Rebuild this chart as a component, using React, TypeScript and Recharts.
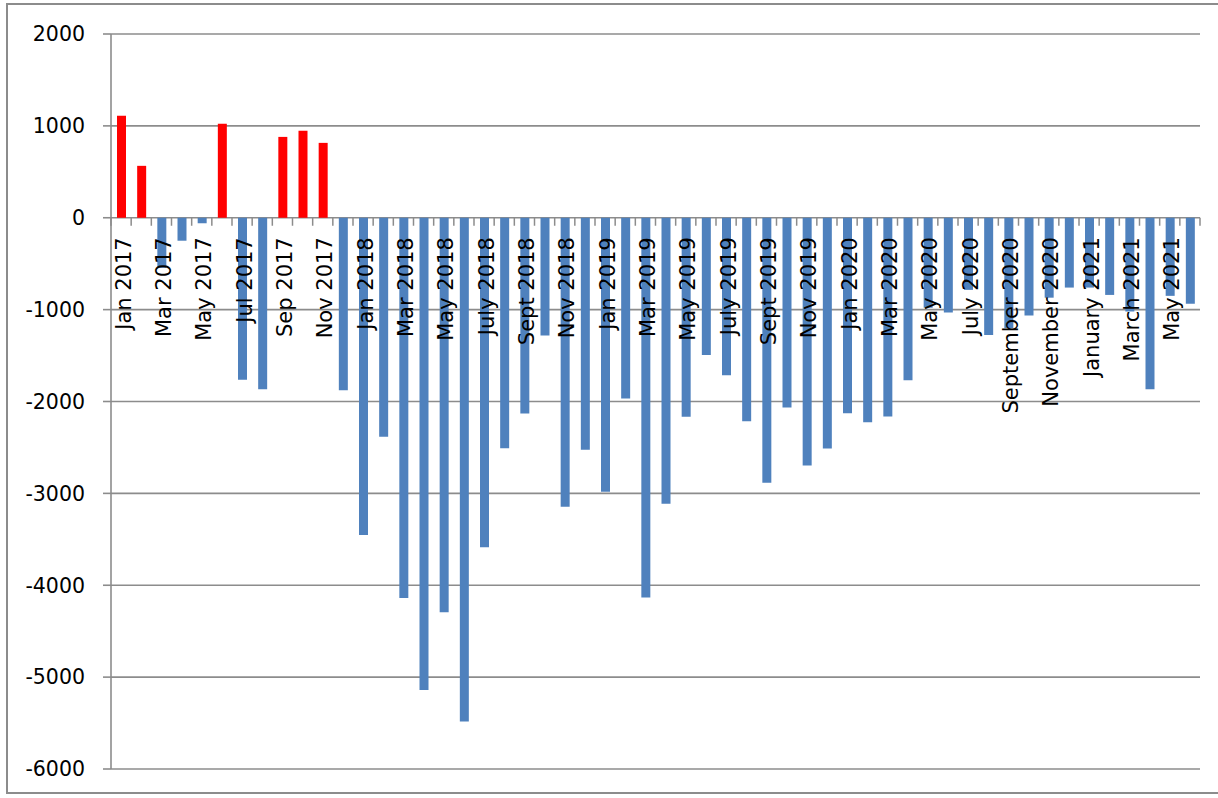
import React from "react";
import { BarChart, Bar, XAxis, YAxis, CartesianGrid, Cell } from "recharts";

// ---- data ----
const months: string[] = [
  "Jan 2017", "Feb 2017", "Mar 2017", "Apr 2017", "May 2017", "Jun 2017",
  "Jul 2017", "Aug 2017", "Sep 2017", "Oct 2017", "Nov 2017", "Dec 2017",
  "Jan 2018", "Feb 2018", "Mar 2018", "Apr 2018", "May 2018", "June 2018",
  "July 2018", "Aug 2018", "Sept 2018", "Oct 2018", "Nov 2018", "Dec 2018",
  "Jan 2019", "Feb 2019", "Mar 2019", "Apr 2019", "May 2019", "June 2019",
  "July 2019", "Aug 2019", "Sept 2019", "Oct 2019", "Nov 2019", "Dec 2019",
  "Jan 2020", "Feb 2020", "Mar 2020", "Apr 2020", "May 2020", "June 2020",
  "July 2020", "August 2020", "September 2020", "October 2020", "November 2020", "December 2020",
  "January 2021", "February 2021", "March 2021", "April 2021", "May 2021", "June 2021",
];

const values: number[] = [
  1110, 565, -545, -250, -60, 1022, -1762, -1866, 880, 946, 815, -1878,
  -3452, -2385, -4140, -5140, -4293, -5484, -3586, -2510, -2130, -1282, -3146, -2524,
  -2982, -1966, -4132, -3113, -2166, -1493, -1715, -2216, -2883, -2065, -2696, -2512,
  -2128, -2226, -2162, -1770, -980, -1030, -785, -1275, -1200, -1065, -870, -760,
  -760, -840, -1020, -1868, -850, -935,
];

const yTicks: number[] = [2000, 1000, 0, -1000, -2000, -3000, -4000, -5000, -6000];

const data = months.map((m, i) => ({ month: m, value: values[i] }));

// ---- layout ----
const W = 1218;
const H = 798;
const M_TOP = 34;
const M_BOTTOM = 28;
const X_AXIS_H = 1;
const M_RIGHT = 18;
const Y_AXIS_W = 111;
const PLOT_W = W - Y_AXIS_W - M_RIGHT;
const PLOT_H = H - M_TOP - M_BOTTOM - X_AXIS_H;
const Y_MAX = yTicks[0];
const Y_MIN = yTicks[yTicks.length - 1];
const ZERO_Y = M_TOP + (PLOT_H * (Y_MAX - 0)) / (Y_MAX - Y_MIN);
const BAND = PLOT_W / months.length;

const FONT = "'DejaVu Sans', sans-serif";
const GRID = "#8c8c8c";
const POS = "#FF0000";
const NEG = "#4F81BD";

const renderXTick = (props: any) => {
  const { x, index, payload } = props;
  const left = x - BAND / 2;
  const right = x + BAND / 2;
  const tx = x + 9.5;
  const ty = ZERO_Y + 19.5;
  return (
    <g key={`xt-${index}`}>
      <line x1={left} x2={left} y1={ZERO_Y} y2={ZERO_Y + 8} stroke={GRID} strokeWidth={1.5} />
      {index === months.length - 1 && (
        <line x1={right} x2={right} y1={ZERO_Y} y2={ZERO_Y + 8} stroke={GRID} strokeWidth={1.5} />
      )}
      {index % 2 === 0 && (
        <text
          x={tx}
          y={ty}
          transform={`rotate(-90, ${tx}, ${ty})`}
          textAnchor="end"
          fontFamily={FONT}
          fontSize={21}
          fill="#000"
        >
          {payload.value}
        </text>
      )}
    </g>
  );
};

export default function App() {
  return (
    <div
      style={{
        position: "absolute",
        left: 0,
        top: 0,
        width: W,
        height: H,
        overflow: "hidden",
        background: "#fff",
      }}
    >
      <div
        style={{
          position: "absolute",
          left: 6,
          top: 3,
          width: W + 40,
          height: H - 7,
          border: `2px solid ${GRID}`,
          boxSizing: "border-box",
        }}
      />
      <div style={{ position: "absolute", left: 0, top: 0 }}>
        <BarChart
          width={W}
          height={H}
          data={data}
          margin={{ top: M_TOP, right: M_RIGHT, bottom: M_BOTTOM, left: 0 }}
          barSize={9}
        >
          <CartesianGrid horizontal vertical={false} stroke={GRID} strokeWidth={1.6} />
          <YAxis
            type="number"
            domain={[Y_MIN, Y_MAX]}
            ticks={yTicks}
            interval={0}
            width={Y_AXIS_W}
            axisLine={{ stroke: GRID, strokeWidth: 1.6 }}
            tickLine={{ stroke: GRID, strokeWidth: 1.6 }}
            tickSize={8}
            tickMargin={18}
            tick={{ fontFamily: FONT, fontSize: 20.5, fill: "#000" }}
          />
          <Bar dataKey="value" isAnimationActive={false}>
            {data.map((d, i) => (
              <Cell key={i} fill={d.value >= 0 ? POS : NEG} />
            ))}
          </Bar>
          <XAxis
            dataKey="month"
            type="category"
            interval={0}
            height={X_AXIS_H}
            axisLine={false}
            tickLine={false}
            tick={renderXTick}
          />
        </BarChart>
      </div>
    </div>
  );
}
